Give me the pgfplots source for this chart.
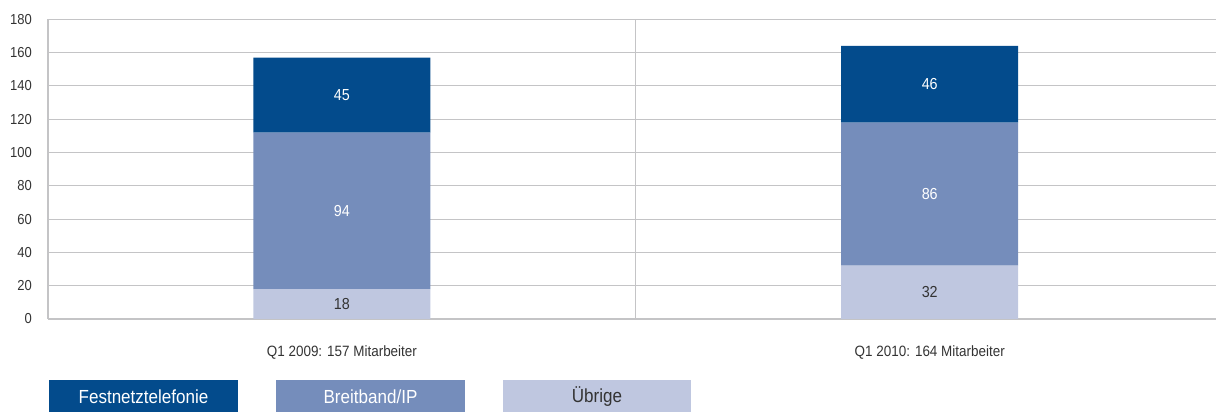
\documentclass[border=0pt]{standalone}
\usepackage{pgfplots}
\pgfplotsset{compat=1.18}
\usepackage{fontspec}
\setmainfont[FakeStretch=0.9]{Liberation Sans}
\definecolor{cdark}{HTML}{034B8C}
\definecolor{cmid}{HTML}{758DBB}
\definecolor{clight}{HTML}{BFC7E0}
\definecolor{cgrid}{HTML}{C4C4C6}
\definecolor{ctext}{HTML}{333333}
\begin{document}
\begin{tikzpicture}
\useasboundingbox (0,0) rectangle (1216bp,412bp);
\pgfplotsset{
  base/.style={
    at={(48bp,93bp)}, anchor=south west, scale only axis,
    width=1168bp, height=299.7bp,
    xmin=-0.5, xmax=1.487, ymin=0, ymax=180,
    /pgf/number format/assume math mode=true,
  }
}
\begin{axis}[base,
  ybar stacked, bar width=177bp,
  axis line style={draw=none},
  ytick={0,20,...,180},
  xtick={0,1},
  xticklabels={Q1 2009: 157 Mitarbeiter, Q1 2010: 164 Mitarbeiter},
  extra x ticks={-0.5,0.5},
  extra x tick labels={},
  extra x tick style={grid=major, major tick length=0pt},
  ymajorgrids,
  major grid style={draw=cgrid, line width=1.1bp},
  major tick length=0pt,
  tick label style={text=ctext, inner sep=0pt},
  yticklabel style={xshift=-16bp, font=\fontsize{14.5}{16}\selectfont},
  xticklabel style={yshift=-26bp, font=\fontsize{15}{17}\selectfont},
]
\addplot[fill=clight, draw=none] coordinates {(0,18) (1,32)};
\addplot[fill=cmid, draw=none] coordinates {(0,94) (1,86)};
\addplot[fill=cdark, draw=none] coordinates {(0,45) (1,46)};
\end{axis}
\begin{axis}[base, hide axis]
\addplot[draw=none, mark=none, nodes near coords, point meta=explicit symbolic,
  every node near coord/.append style={anchor=center, text=ctext, font=\fontsize{16}{18}\selectfont}]
  coordinates {(0,9)[18] (1,16)[32]};
\addplot[draw=none, mark=none, nodes near coords, point meta=explicit symbolic,
  every node near coord/.append style={anchor=center, text=white, font=\fontsize{16}{18}\selectfont}]
  coordinates {(0,65)[94] (0,134.5)[45] (1,75)[86] (1,141)[46]};
\end{axis}
\fill[cdark] (49bp,0bp) rectangle (238bp,32bp);
\fill[cmid] (276bp,0bp) rectangle (465bp,32bp);
\fill[clight] (503bp,0bp) rectangle (691bp,32bp);
\node[text=white, font=\fontsize{19}{21}\selectfont] at (143.5bp,15bp) {Festnetztelefonie};
\node[text=white, font=\fontsize{19}{21}\selectfont] at (370.5bp,15bp) {Breitband/IP};
\node[text=ctext, font=\fontsize{19}{21}\selectfont] at (597bp,15bp) {Übrige};
\end{tikzpicture}
\end{document}
